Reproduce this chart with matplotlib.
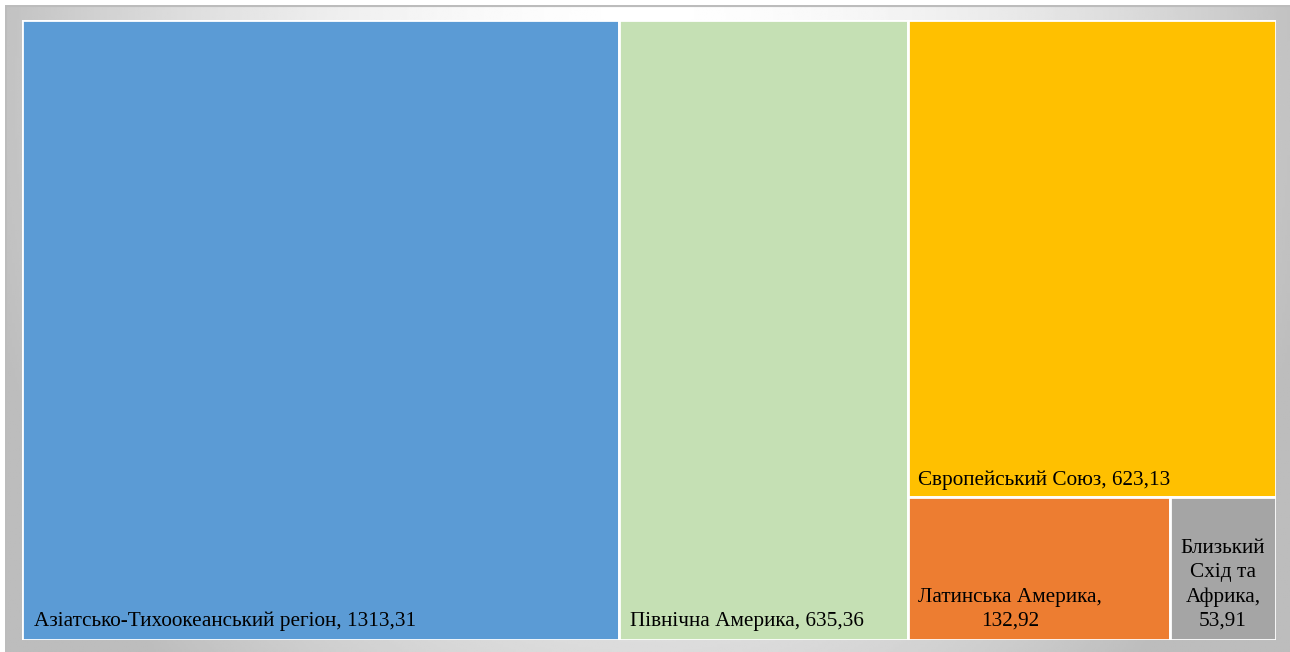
import numpy as np
import matplotlib
matplotlib.use("Agg")
import matplotlib.pyplot as plt
from matplotlib.patches import Rectangle

regions = ["Азіатсько-Тихоокеанський регіон", "Північна Америка", "Європейський Союз",
           "Латинська Америка", "Близький Схід та Африка"]
values = [1313.31, 635.36, 623.13, 132.92, 53.91]
colors = ["#5B9BD5", "#C5E0B4", "#FFC000", "#ED7D31", "#A5A5A5"]

plt.rcParams['font.family'] = ['Liberation Serif', 'DejaVu Serif']

W, H = 1290, 652
fig = plt.figure(figsize=(W / 100, H / 100), dpi=100)

# background: grey gradient, white near the top middle
bg = fig.add_axes([5 / W, 0, 1 - 5 / W, 1 - 5 / H])
yy, xx = np.mgrid[0:1:300j, 0:1:600j]   # yy = 0 at top
dx = np.abs(xx - 0.5) / 0.5
dark = 0.2 * dx ** 2 + 0.14 * yy ** 2 + 0.04 * dx * (1 - yy)
bg.imshow(1 - np.clip(dark, 0, 0.26), cmap='gray', vmin=0, vmax=1,
          aspect='auto', extent=[0, 1, 0, 1], origin='upper')
bg.set_xlim(0, 1)
bg.set_ylim(0, 1)
bg.plot([0, 1], [1, 1], color='#bcbcbc', lw=3)
bg.plot([0, 0], [0, 1], color='#bcbcbc', lw=2)
bg.axis('off')

# treemap area
x0, y0, x1, y1 = 22, 20, 1276, 640
ax = fig.add_axes([x0 / W, 1 - y1 / H, (x1 - x0) / W, (y1 - y0) / H])
ax.set_xlim(0, 1)
ax.set_ylim(0, 1)
ax.axis('off')

total = sum(values)
w_asia = values[0] / total
w_na = values[1] / total
rest = sum(values[2:])
h_eu = values[2] / rest
w_la = values[3] / (values[3] + values[4])

# (x, y, w, h) in axes coordinates, y measured from bottom
xr = w_asia + w_na
wr = 1 - xr
h_low = 1 - h_eu
boxes = [
    (0, 0, w_asia, 1),
    (w_asia, 0, w_na, 1),
    (xr, h_low, wr, h_eu),
    (xr, 0, wr * w_la, h_low),
    (xr + wr * w_la, 0, wr * (1 - w_la), h_low),
]
for (bx, by, bw, bh), c in zip(boxes, colors):
    ax.add_patch(Rectangle((bx, by), bw, bh, facecolor=c, edgecolor='white', lw=2))

def fmt(v):
    return f"{v:.2f}".replace('.', ',')

fs = 15.3
ls = 1.36
px = 1 / (x1 - x0)
py = 1 / (y1 - y0)
ax.text(boxes[0][0] + 12 * px, 9 * py, f"{regions[0]}, {fmt(values[0])}",
        fontsize=fs, ha='left', va='bottom')
ax.text(boxes[1][0] + 11 * px, 9 * py, f"{regions[1]}, {fmt(values[1])}",
        fontsize=fs, ha='left', va='bottom')
ax.text(boxes[2][0] + 10 * px, boxes[2][1] + 7 * py, f"{regions[2]}, {fmt(values[2])}",
        fontsize=fs, ha='left', va='bottom')
ax.text(boxes[3][0] + 10 * px, 9 * py, f"Латинська Америка,\n{fmt(values[3])}",
        fontsize=fs, ha='left', va='bottom', multialignment='center', linespacing=ls)
ax.text(boxes[4][0] + boxes[4][2] / 2, 9 * py, f"Близький\nСхід та\nАфрика,\n{fmt(values[4])}",
        fontsize=fs, ha='center', va='bottom', multialignment='center', linespacing=ls)

fig.savefig("out.png", dpi=100)
